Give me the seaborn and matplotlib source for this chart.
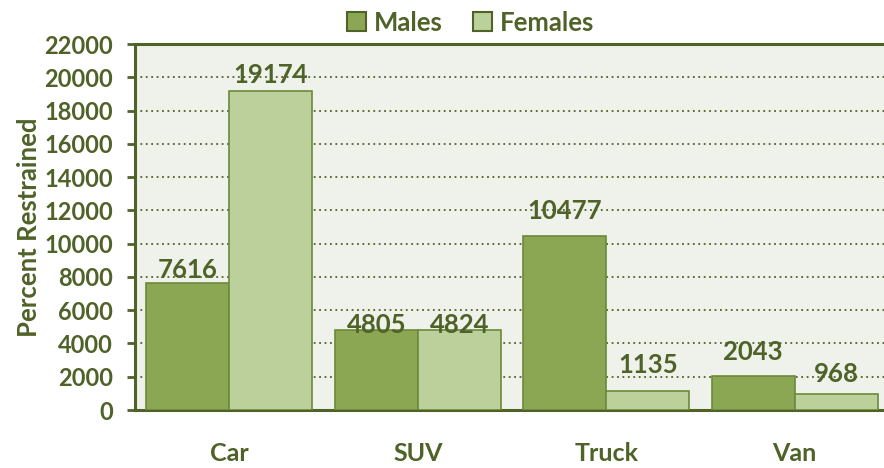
import pandas as pd
import matplotlib.pyplot as plt
import seaborn as sns

# Chart data
vehicles = ['Car', 'SUV', 'Truck', 'Van']
males = [7616, 4805, 10477, 2043]
females = [19174, 4824, 1135, 968]
y_ticks = list(range(0, 22001, 2000))

# label gap above each bar (points), mimics the original spacing
male_pad = [1, -5, 9, 9]
female_pad = [3, -5, 10, 6]

dark = '#4F6228'
male_col = '#8BA753'
female_col = '#BBD09A'

df = pd.DataFrame({
    'vehicle': vehicles * 2,
    'count': males + females,
    'sex': ['Males'] * len(vehicles) + ['Females'] * len(vehicles),
})

sns.set_style('white')
plt.rcParams['font.family'] = ['Lato', 'DejaVu Sans']
plt.rcParams['font.weight'] = 'bold'

fig = plt.figure(figsize=(8.84, 4.68), dpi=100)
ax = fig.add_axes([135 / 884, 1 - 410 / 468, 754 / 884, 366 / 468])
ax.set_facecolor('#EFF2EA')

sns.barplot(data=df, x='vehicle', y='count', hue='sex', order=vehicles,
            hue_order=['Males', 'Females'],
            palette={'Males': male_col, 'Females': female_col},
            width=0.88, saturation=1, edgecolor='#6B8A3A', linewidth=1.2,
            ax=ax, zorder=3)

# Gridlines
ax.set_ylim(0, 22000)
ax.set_yticks(y_ticks)
ax.set_yticklabels([str(t) for t in y_ticks])
for t in y_ticks[1:-1]:
    ax.axhline(t, color=dark, linestyle=(0, (1, 2)), linewidth=1.3, zorder=1)

# Value labels
for container, pads in zip(ax.containers, [male_pad, female_pad]):
    for bar, pad in zip(container, pads):
        ax.annotate(f'{bar.get_height():.0f}',
                    (bar.get_x() + bar.get_width() / 2, bar.get_height()),
                    xytext=(0, pad), textcoords='offset points',
                    ha='center', va='bottom', color=dark, fontsize=18.5,
                    fontweight='bold', zorder=5)

ax.set_xlim(-0.5, 3.5)
ax.set_xticks(range(len(vehicles)))
ax.set_xticklabels(vehicles)
ax.set_xticks([-0.5, 0.5, 1.5, 2.5, 3.5], minor=True)
ax.tick_params(axis='x', which='major', length=0, pad=23, labelsize=18, labelcolor=dark)
ax.tick_params(axis='x', which='minor', length=7, width=2, color=dark, direction='out')
ax.tick_params(axis='y', length=6, width=2, color=dark, direction='out', left=True,
               labelsize=17, labelcolor=dark, pad=10)

for side in ['left', 'bottom', 'top']:
    ax.spines[side].set_color(dark)
    ax.spines[side].set_linewidth(2.2)
ax.spines['right'].set_visible(False)

ax.set_xlabel('')
ax.set_ylabel('Percent Restrained', color=dark, fontsize=18.5, fontweight='bold', labelpad=2)

handles, labels = ax.get_legend_handles_labels()
for h in handles:
    h.set_edgecolor(dark)
    h.set_linewidth(1.5)
ax.legend(handles, labels, loc='lower center', bbox_to_anchor=(0.445, 0.99), ncol=2,
          frameon=False, fontsize=18.5, handlelength=0.75, handleheight=0.75,
          handletextpad=0.3, columnspacing=1.2, labelcolor=dark, borderaxespad=0.1)

plt.savefig('out.png', dpi=100)
plt.close()
